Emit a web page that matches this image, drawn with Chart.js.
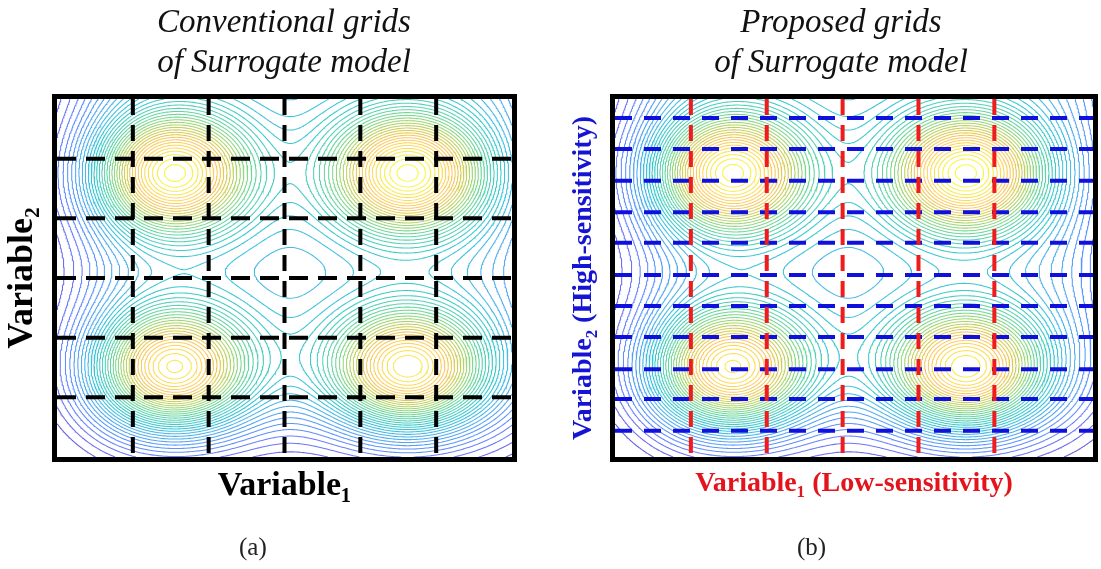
<!DOCTYPE html>
<html>
<head>
<meta charset="utf-8">
<script src="https://cdn.jsdelivr.net/npm/chart.js@4/dist/chart.umd.min.js"></script>
<style>
  html, body { margin: 0; padding: 0; background: #fff; }
  #wrap { position: relative; width: 1101px; height: 569px; overflow: hidden; }
  canvas { position: absolute; top: 0; }
  #cA { left: 0; }
  #cB { left: 550px; }
  .head { position: absolute; top: 1px; width: 400px; text-align: center;
          font: italic 33px "Liberation Serif", serif; line-height: 40px; color: #111; }
  .tag { position: absolute; top: 534px; font: 25px "Liberation Serif", serif; line-height: 25px; color: #222; }
</style>
</head>
<body>
<div id="wrap">
  <canvas id="cA" width="550" height="569"></canvas>
  <canvas id="cB" width="551" height="569"></canvas>
  <div class="head" style="left:84px">Conventional grids<br>of Surrogate model</div>
  <div class="head" style="left:641px">Proposed grids<br>of Surrogate model</div>
  <div class="tag" style="left:239px">(a)</div>
  <div class="tag" style="left:797px">(b)</div>
</div>
<script>
// Response surface (axis units, 0..6): four peaks ...
const peakX       = [1.53, 4.63, 1.53, 4.63];
const peakY       = [4.76, 4.76, 1.47, 1.47];
const peakHeight  = [1.00, 1.02, 0.97, 0.98];
const peakSpreadX = [0.712, 0.712, 0.712, 0.712];
const peakSpreadY = [0.704, 0.704, 0.704, 0.704];
// ... sitting on a plateau that falls away at the left, right and bottom sides
const plateauHeight = 0.39;
const plateauEdges  = [0.488, 6.317, 0.654];   // left, right, bottom
const plateauWidths = [0.353, 0.360, 0.450];
const levelCount    = 38;
const levelShift    = 0.45;   // fraction of a level step

// Sampling grids
const coarseX   = [1, 2, 3, 4, 5];
const coarseY   = [1, 2, 3, 4, 5];
const lowSensX  = [1, 2, 3, 4, 5];
const highSensY = [0.44, 0.97, 1.47, 2.01, 2.53, 3.05, 3.59, 4.10, 4.63, 5.16, 5.68];

// Axis extents
const yMax  = 6;
const xMaxA = 6;
const xMaxB = 6.30;

// Parula colormap stops (evenly spaced)
const parulaStops = [
  [62, 38, 168], [71, 65, 229], [69, 99, 253], [50, 124, 252], [43, 145, 239],
  [32, 165, 227], [8, 181, 208], [11, 189, 189], [44, 196, 167], [63, 202, 142],
  [100, 205, 111], [143, 203, 78], [185, 196, 49], [220, 189, 41], [248, 186, 61],
  [254, 201, 52], [247, 221, 42], [247, 239, 32], [249, 251, 21]
];

function parula(t, alpha) {
  const n = parulaStops.length - 1;
  const p = Math.min(Math.max(t, 0), 1) * n;
  const i = Math.min(Math.floor(p), n - 1);
  const f = p - i;
  const a = parulaStops[i], b = parulaStops[i + 1];
  return 'rgba(' + a.map((v, k) => Math.round(v + (b[k] - v) * f)).join(',') + ',' + alpha + ')';
}

const logistic = t => 1 / (1 + Math.exp(-t));

function surface(x, y) {
  let s = plateauHeight *
    logistic((x - plateauEdges[0]) / plateauWidths[0]) *
    logistic((plateauEdges[1] - x) / plateauWidths[1]) *
    logistic((y - plateauEdges[2]) / plateauWidths[2]);
  for (let i = 0; i < peakX.length; i++) {
    const dx = (x - peakX[i]) / peakSpreadX[i];
    const dy = (y - peakY[i]) / peakSpreadY[i];
    s += peakHeight[i] * Math.exp(-0.5 * (dx * dx + dy * dy));
  }
  return s;
}

function sampleGrid(xMax, nx, ny) {
  const v = [];
  for (let j = 0; j <= ny; j++) {
    const row = [];
    for (let i = 0; i <= nx; i++) row.push(surface(xMax * i / nx, yMax * j / ny));
    v.push(row);
  }
  return v;
}

// Shared contour levels, taken from the range over the standard domain
const refGrid = sampleGrid(xMaxA, 150, 150);
let fMin = Infinity, fMax = -Infinity;
refGrid.forEach(r => r.forEach(v => { fMin = Math.min(fMin, v); fMax = Math.max(fMax, v); }));
const levels = [];
for (let k = 0; k < levelCount; k++) {
  const t = (k + 1 + levelShift) / (levelCount + 1);
  if (t < 1) levels.push(fMin + (fMax - fMin) * t);
}

// Marching squares, segments chained into polylines keyed by cell edge
function contourLines(xMax, level, grid, nx, ny) {
  const dx = xMax / nx, dy = yMax / ny;
  const pts = new Map();
  const adj = new Map();
  function edgePoint(key, x0, y0, v0, x1, y1, v1) {
    if (!pts.has(key)) {
      const t = (level - v0) / (v1 - v0);
      pts.set(key, { x: x0 + (x1 - x0) * t, y: y0 + (y1 - y0) * t });
    }
    return key;
  }
  function link(a, b) {
    if (!adj.has(a)) adj.set(a, []);
    if (!adj.has(b)) adj.set(b, []);
    adj.get(a).push(b);
    adj.get(b).push(a);
  }
  for (let j = 0; j < ny; j++) {
    for (let i = 0; i < nx; i++) {
      const v0 = grid[j][i], v1 = grid[j][i + 1], v2 = grid[j + 1][i + 1], v3 = grid[j + 1][i];
      const c = (v0 > level ? 1 : 0) | (v1 > level ? 2 : 0) | (v2 > level ? 4 : 0) | (v3 > level ? 8 : 0);
      if (c === 0 || c === 15) continue;
      const x0 = i * dx, x1 = (i + 1) * dx, y0 = j * dy, y1 = (j + 1) * dy;
      const e = [
        () => edgePoint('h' + i + ',' + j, x0, y0, v0, x1, y0, v1),
        () => edgePoint('v' + (i + 1) + ',' + j, x1, y0, v1, x1, y1, v2),
        () => edgePoint('h' + i + ',' + (j + 1), x0, y1, v3, x1, y1, v2),
        () => edgePoint('v' + i + ',' + j, x0, y0, v0, x0, y1, v3)
      ];
      const mid = (v0 + v1 + v2 + v3) / 4 > level;
      let segs;
      switch (c) {
        case 1: case 14: segs = [[3, 0]]; break;
        case 2: case 13: segs = [[0, 1]]; break;
        case 3: case 12: segs = [[3, 1]]; break;
        case 4: case 11: segs = [[1, 2]]; break;
        case 6: case 9:  segs = [[0, 2]]; break;
        case 7: case 8:  segs = [[3, 2]]; break;
        case 5:  segs = mid ? [[0, 1], [2, 3]] : [[3, 0], [1, 2]]; break;
        case 10: segs = mid ? [[3, 0], [1, 2]] : [[0, 1], [2, 3]]; break;
      }
      segs.forEach(s => link(e[s[0]](), e[s[1]]()));
    }
  }
  const used = new Set();
  const lines = [];
  function walk(start) {
    const line = [pts.get(start)];
    used.add(start);
    let cur = start;
    while (true) {
      const nxt = (adj.get(cur) || []).find(k => !used.has(k));
      if (nxt === undefined) {
        const back = adj.get(cur) || [];
        if (back.includes(start) && line.length > 2) line.push(pts.get(start));
        break;
      }
      used.add(nxt);
      line.push(pts.get(nxt));
      cur = nxt;
    }
    lines.push(line);
  }
  adj.forEach((n, k) => { if (n.length === 1 && !used.has(k)) walk(k); });
  adj.forEach((n, k) => { if (!used.has(k)) walk(k); });
  return lines;
}

function contourDatasets(xMax) {
  const nx = Math.round(44 * xMax), ny = 264;
  const grid = sampleGrid(xMax, nx, ny);
  return levels.map(lv => {
    const data = [];
    contourLines(xMax, lv, grid, nx, ny).forEach(line => {
      line.forEach(p => data.push(p));
      data.push({ x: line[line.length - 1].x, y: null });
    });
    return {
      data,
      borderColor: parula((lv - fMin) / (fMax - fMin), 0.8),
      borderWidth: 1.05,
      pointRadius: 0,
      showLine: true,
      spanGaps: false,
      order: 2
    };
  });
}

function gridDatasets(xs, ys, xMax, colX, colY, dashX, dashY) {
  const out = [];
  ys.forEach(v => out.push({
    data: [{ x: 0, y: v }, { x: xMax, y: v }],
    borderColor: colY, borderWidth: 4, borderDash: dashY, borderCapStyle: 'butt',
    pointRadius: 0, showLine: true, order: 1
  }));
  xs.forEach(v => out.push({
    data: [{ x: v, y: yMax }, { x: v, y: 0 }],
    borderColor: colX, borderWidth: 4, borderDash: dashX, borderCapStyle: 'butt',
    pointRadius: 0, showLine: true, order: 0
  }));
  return out;
}

const frame = {
  id: 'frame',
  afterDatasetsDraw(chart) {
    const a = chart.chartArea, ctx = chart.ctx;
    ctx.save();
    ctx.lineWidth = 5;
    ctx.strokeStyle = '#000';
    ctx.strokeRect(a.left - 2.5, a.top - 2.5, a.right - a.left + 5, a.bottom - a.top + 5);
    ctx.restore();
  }
};

const serif = '"Liberation Serif", "DejaVu Serif", serif';

function makeChart(id, cfg) {
  return new Chart(document.getElementById(id), {
    type: 'scatter',
    data: { datasets: cfg.datasets },
    plugins: [frame],
    options: {
      responsive: false,
      animation: false,
      events: [],
      layout: { padding: cfg.padding },
      plugins: {
        legend: { display: false },
        tooltip: { enabled: false }
      },
      scales: {
        x: {
          type: 'linear', min: 0, max: cfg.xMax,
          ticks: { display: false },
          grid: { display: false, drawTicks: false },
          border: { display: false },
          title: {
            display: true, text: cfg.xTitle, color: cfg.xColor,
            font: { family: serif, size: cfg.xSize, weight: 'bold', lineHeight: 1.2 },
            padding: cfg.xPad
          }
        },
        y: {
          type: 'linear', min: 0, max: yMax,
          ticks: { display: false },
          grid: { display: false, drawTicks: false },
          border: { display: false },
          title: {
            display: true, text: cfg.yTitle, color: cfg.yColor,
            font: { family: serif, size: cfg.ySize, weight: 'bold', lineHeight: 1.2 },
            padding: cfg.yPad
          }
        }
      }
    }
  });
}

makeChart('cA', {
  datasets: contourDatasets(xMaxA).concat(
    gridDatasets(coarseX, coarseY, xMaxA, '#000', '#000', [16, 10], [19, 10])),
  padding: { top: 99, left: 0, right: 38, bottom: 62.1 },
  xMax: xMaxA,
  xTitle: 'Variable₁', xColor: '#000', xSize: 34, xPad: { top: 9.1, bottom: 0 },
  yTitle: 'Variable₂', yColor: '#000', ySize: 36, yPad: { top: 1.25, bottom: 12.55 }
});

makeChart('cB', {
  datasets: contourDatasets(xMaxB).concat(
    gridDatasets(lowSensX, highSensY, xMaxB, '#ee1c1c', '#1010dc', [16, 10], [17, 12])),
  padding: { top: 99, left: 0, right: 8, bottom: 68.7 },
  xMax: xMaxB,
  xTitle: 'Variable₁ (Low-sensitivity)', xColor: '#e3141c', xSize: 28, xPad: { top: 9.7, bottom: 0 },
  yTitle: 'Variable₂ (High-sensitivity)', yColor: '#1414d2', ySize: 28, yPad: { top: 16.7, bottom: 14.7 }
});
</script>
</body>
</html>
